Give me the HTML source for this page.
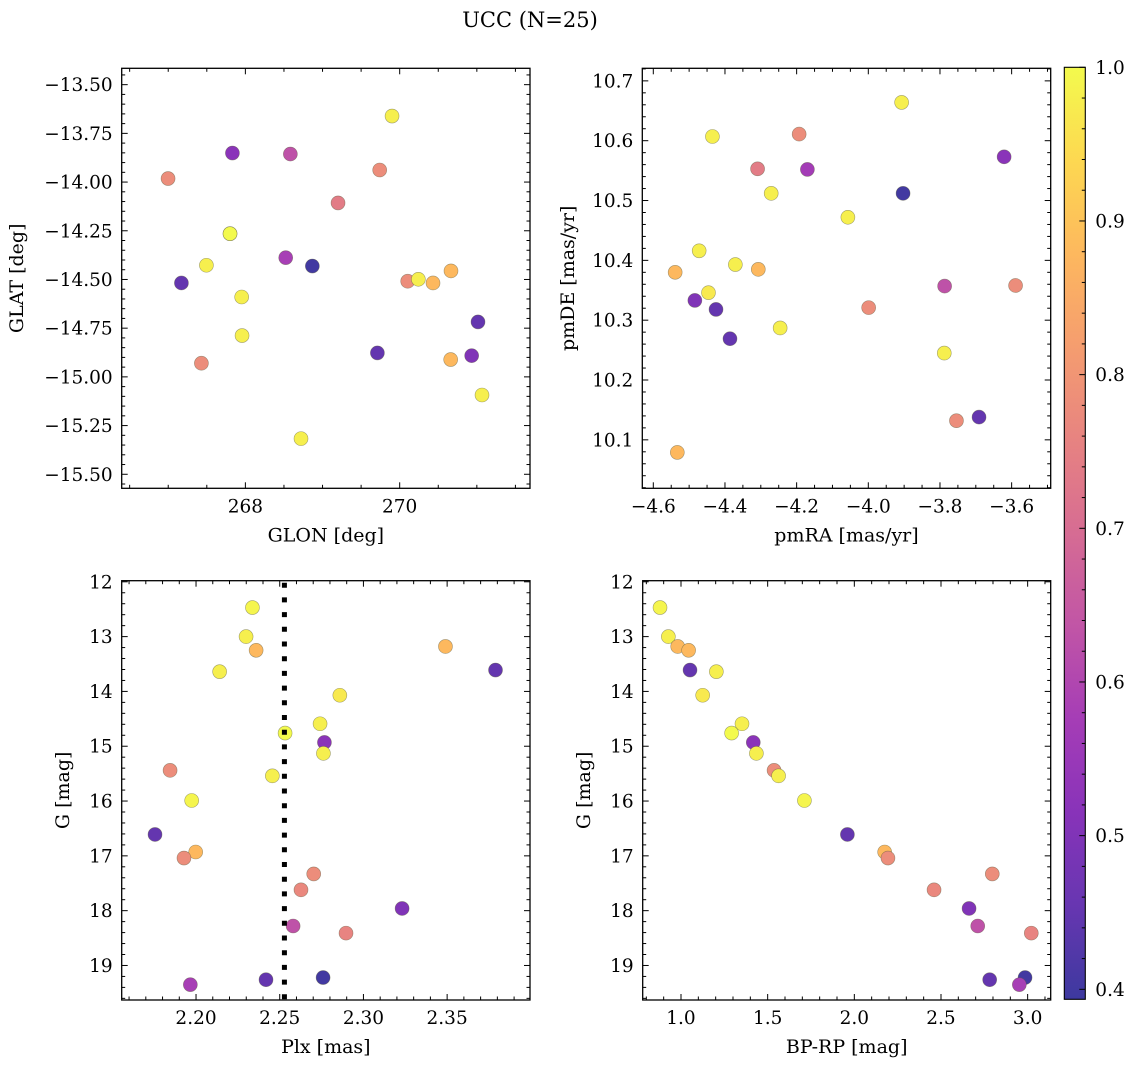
<!DOCTYPE html>
<html><head><meta charset="utf-8">
<style>
html,body{margin:0;padding:0;background:#fff;}
svg{display:block;font-family:"DejaVu Serif","Liberation Serif",serif;}
</style></head>
<body>
<svg id="fig" width="1136" height="1067" viewBox="0 0 1136 1067" xmlns="http://www.w3.org/2000/svg">
<rect width="1136" height="1067" fill="#fff"/>
<text x="530" y="27" font-size="21" text-anchor="middle">UCC (N=25)</text>
</svg>
<script>
// ---- Panel 1 data (GLON / GLAT) ----
const glon = [266.998,267.832,268.583,269.901,269.741,269.201,267.801,267.801,267.495,268.523,268.868,267.171,267.952,270.104,270.242,270.432,270.665,271.015,267.957,269.711,270.933,270.661,267.430,271.067,268.721];
const glat = [-13.982,-13.851,-13.856,-13.661,-13.938,-14.107,-14.265,-14.265,-14.427,-14.388,-14.431,-14.518,-14.590,-14.509,-14.499,-14.518,-14.456,-14.718,-14.788,-14.877,-14.891,-14.911,-14.930,-15.093,-15.317];
const cGal = [0.78,0.52,0.63,0.98,0.78,0.74,0.98,1.0,0.98,0.58,0.40,0.45,0.98,0.78,0.98,0.88,0.88,0.45,0.98,0.45,0.50,0.88,0.78,0.98,0.98];
// ---- Panel 2 data (pmRA / pmDE) ----
const pmra = [-3.907,-4.435,-4.193,-4.309,-4.170,-3.621,-4.271,-3.903,-4.057,-4.472,-4.371,-4.539,-4.307,-4.446,-4.484,-4.425,-3.999,-3.787,-3.589,-4.386,-4.246,-3.788,-3.754,-3.691,-4.533];
const pmde = [10.664,10.607,10.611,10.553,10.552,10.573,10.512,10.512,10.472,10.416,10.393,10.380,10.385,10.346,10.333,10.318,10.321,10.357,10.358,10.269,10.287,10.245,10.132,10.138,10.079];
const cPm = [0.98,0.98,0.78,0.74,0.57,0.52,0.98,0.40,0.98,0.98,0.98,0.88,0.88,0.97,0.50,0.45,0.78,0.63,0.78,0.45,0.98,0.98,0.78,0.45,0.88];
// ---- Panels 3/4 data (Plx, BP-RP, G) ----
const gmag = [12.47,13.00,13.18,13.25,13.61,13.64,14.07,14.59,14.76,14.93,15.13,15.44,15.54,15.99,16.61,16.93,17.04,17.33,17.62,17.96,18.28,18.41,19.26,19.22,19.35];
const plx = [2.2337,2.2299,2.3490,2.2359,2.3789,2.2141,2.2859,2.2741,2.2532,2.2767,2.2761,2.1845,2.2456,2.1974,2.1755,2.1998,2.1928,2.2703,2.2627,2.3231,2.2580,2.2896,2.2418,2.2759,2.1966];
const bprp = [0.879,0.927,0.981,1.044,1.052,1.204,1.125,1.352,1.292,1.417,1.435,1.537,1.563,1.712,1.960,2.175,2.194,2.796,2.460,2.662,2.712,3.021,2.781,2.985,2.952];
const cPhot = [0.99,0.98,0.88,0.88,0.45,0.98,0.97,0.98,1.0,0.52,0.98,0.78,0.98,0.99,0.45,0.88,0.78,0.78,0.77,0.50,0.63,0.76,0.45,0.40,0.58];
const plxMedian = 2.2528;
// ---- Colorbar ----
const cbTicks = [0.4,0.5,0.6,0.7,0.8,0.9,1.0];
const cMin = 0.3935, cMax = 1.0;

const NS = "http://www.w3.org/2000/svg";
const fig = document.getElementById('fig');
function el(tag, attrs, parent){
  const e = document.createElementNS(NS, tag);
  for (const k in attrs) e.setAttribute(k, attrs[k]);
  (parent||fig).appendChild(e);
  return e;
}
const plasma = ["#0d0887","#41049d","#6a00a8","#8f0da4","#b12a90","#cc4778","#e16462","#f2844b","#fca636","#fcce25","#f0f921"];
function hex2rgb(h){return [parseInt(h.slice(1,3),16),parseInt(h.slice(3,5),16),parseInt(h.slice(5,7),16)];}
function cmap(v){
  let t = (v - cMin)/(cMax - cMin); t = Math.max(0, Math.min(1, t));
  const f = t*10, i = Math.min(9, Math.floor(f)), r = f - i;
  const a = hex2rgb(plasma[i]), b = hex2rgb(plasma[i+1]);
  const c = a.map((x,k)=>x+(b[k]-x)*r);
  return "rgb(" + c.map(x=>Math.round(x*0.8+255*0.2)).join(",") + ")";
}
function fmt(v, d){ const s = Math.abs(v).toFixed(d); return (v < -1e-9 ? "\u2212" : "") + s; }
const TF = 18.5, LF = 19;

function panel(o){
  const g = el('g', {});
  
  
  const sx = v => o.L + (v - o.xmin)/(o.xmax - o.xmin)*(o.R - o.L);
  const sy = o.invert ? (v => o.T + (v - o.ymin)/(o.ymax - o.ymin)*(o.B - o.T))
                      : (v => o.B - (v - o.ymin)/(o.ymax - o.ymin)*(o.B - o.T));
  const tg = el('g', {stroke:'#000','stroke-width':1}, g);
  
  
  const eps = 1e-6;
  for (let v = Math.ceil(o.xmin/o.xminor - eps)*o.xminor; v <= o.xmax + eps; v += o.xminor){
    const x = sx(v);
    const isMaj = Math.abs(v/o.xmajor - Math.round(v/o.xmajor)) < 1e-4;
    const len = isMaj ? 6 : 3.5;
    el('line', {x1:x, x2:x, y1:o.B, y2:o.B-len}, tg);
    el('line', {x1:x, x2:x, y1:o.T, y2:o.T+len}, tg);
    if (isMaj){
      const t = el('text', {x:x, y:o.B+24, 'font-size':TF, 'text-anchor':'middle', stroke:'none', fill:'#000'}, g);
      
      
      t.textContent = fmt(v, o.xdec);
    }
  }
  for (let v = Math.ceil(o.ymin/o.yminor - eps)*o.yminor; v <= o.ymax + eps; v += o.yminor){
    const y = sy(v);
    const isMaj = Math.abs(v/o.ymajor - Math.round(v/o.ymajor)) < 1e-4;
    const len = isMaj ? 6 : 3.5;
    el('line', {x1:o.L, x2:o.L+len, y1:y, y2:y}, tg);
    el('line', {x1:o.R, x2:o.R-len, y1:y, y2:y}, tg);
    if (isMaj){
      const t = el('text', {x:o.L-9, y:y+6.5, 'font-size':TF, 'text-anchor':'end', fill:'#000'}, g);
      
      
      t.textContent = fmt(v, o.ydec);
    }
  }
  const cp = el('clipPath', {id:o.name+'-clip'}, g);
  el('rect', {x:o.L, y:o.T, width:o.R-o.L, height:o.B-o.T}, cp);
  const pg = el('g', {'clip-path':'url(#'+o.name+'-clip)'}, g);
  
  
  for (let i = 0; i < o.xs.length; i++){
    const c = el('circle', {cx:sx(o.xs[i]), cy:sy(o.ys[i]), r:7, fill:cmap(o.cs[i]), stroke:'rgba(90,90,60,0.55)', 'stroke-width':0.6}, pg);
    
    
  }
  if (o.vline !== undefined){
    const l = el('line', {x1:sx(o.vline), x2:sx(o.vline), y1:o.T+2, y2:o.B, stroke:'#000', 'stroke-width':5, 'stroke-dasharray':'5,9.7'}, g);
    
    
  }
  const fr = el('rect', {x:o.L, y:o.T, width:o.R-o.L, height:o.B-o.T, fill:'none', stroke:'#000', 'stroke-width':1.3}, g);
  
  
  const xl = el('text', {x:(o.L+o.R)/2, y:o.B+53, 'font-size':LF, 'text-anchor':'middle'}, g);
  
  
  xl.textContent = o.xlabel;
  const yl = el('text', {x:0, y:0, 'font-size':LF, 'text-anchor':'middle', transform:'translate('+o.ylx+','+((o.T+o.B)/2)+') rotate(-90)'}, g);
  
  
  yl.textContent = o.ylabel;
}

panel({name:'panel-galactic', L:121.7, R:530, T:68.3, B:488.3, xmin:266.397, xmax:271.689, ymin:-15.572, ymax:-13.416,
  xmajor:2, xminor:0.5, ymajor:0.25, yminor:0.05, xdec:0, ydec:2, xs:glon, ys:glat, cs:cGal,
  xlabel:'GLON [deg]', ylabel:'GLAT [deg]', ylx:23});
panel({name:'panel-proper-motion', L:642.3, R:1050.7, T:68.3, B:488.3, xmin:-4.6307, xmax:-3.491, ymin:10.019, ymax:10.721,
  xmajor:0.2, xminor:0.05, ymajor:0.1, yminor:0.02, xdec:1, ydec:1, xs:pmra, ys:pmde, cs:cPm,
  xlabel:'pmRA [mas/yr]', ylabel:'pmDE [mas/yr]', ylx:574});
panel({name:'panel-plx-g', L:121.7, R:530, T:580.7, B:1000, xmin:2.1556, xmax:2.3995, ymin:11.98, ymax:19.63, invert:true,
  xmajor:0.05, xminor:0.01, ymajor:1, yminor:0.2, xdec:2, ydec:0, xs:plx, ys:gmag, cs:cPhot,
  xlabel:'Plx [mas]', ylabel:'G [mag]', ylx:69, vline:plxMedian});
panel({name:'panel-cmd', L:642.7, R:1050.7, T:580.7, B:1000, xmin:0.779, xmax:3.133, ymin:11.98, ymax:19.63, invert:true,
  xmajor:0.5, xminor:0.1, ymajor:1, yminor:0.2, xdec:1, ydec:0, xs:bprp, ys:gmag, cs:cPhot,
  xlabel:'BP-RP [mag]', ylabel:'G [mag]', ylx:590});

(function(){
  const L=1064.3, R=1085.3, T=67.3, B=999.3;
  const cg = el('g', {});
  
  
  const grad = el('linearGradient', {id:'cbgrad', x1:0, y1:1, x2:0, y2:0}, cg);
  for (let i = 0; i <= 20; i++){
    const v = cMin + (cMax-cMin)*i/20;
    el('stop', {offset:(i/20), 'stop-color':cmap(v)}, grad);
  }
  el('rect', {x:L, y:T, width:R-L, height:B-T, fill:'url(#cbgrad)', stroke:'#000', 'stroke-width':1.1}, cg);
  const sy = v => B - (v - cMin)/(cMax - cMin)*(B - T);
  for (let v = 0.40; v <= 1.0001; v += 0.02){
    const maj = Math.abs(v*10 - Math.round(v*10)) < 1e-4;
    el('line', {x1:R, x2:R-(maj?6:3.5), y1:sy(v), y2:sy(v), stroke:'#000', 'stroke-width':1}, cg);
  }
  for (const v of cbTicks){
    const t = el('text', {x:R+10, y:sy(v)+6.5, 'font-size':TF}, cg);
    
    
    t.textContent = v.toFixed(1);
  }
})();
</script>
</body></html>
